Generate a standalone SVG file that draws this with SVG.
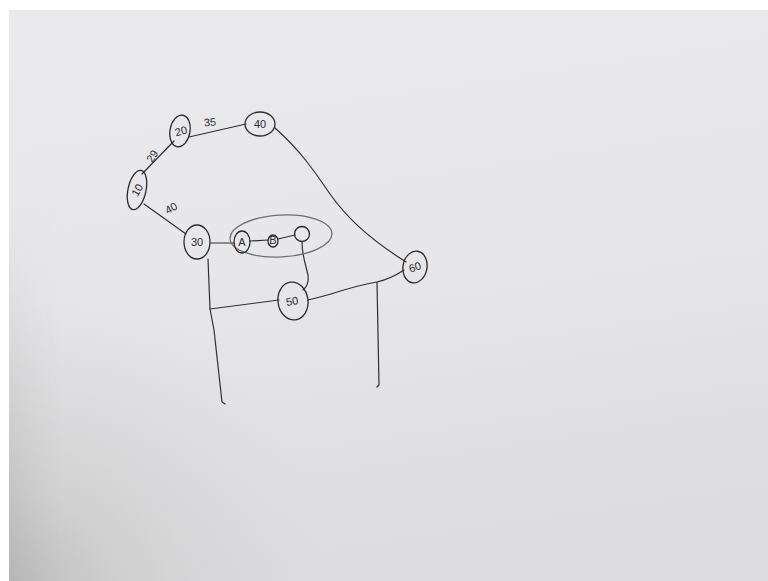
<svg xmlns="http://www.w3.org/2000/svg" width="768" height="581" viewBox="0 0 768 581">
<defs>
<linearGradient id="board" x1="0" y1="0" x2="0.2" y2="1">
<stop offset="0" stop-color="#eaeaed"/>
<stop offset="0.5" stop-color="#e7e7e9"/>
<stop offset="1" stop-color="#dddddf"/>
</linearGradient>
<radialGradient id="shade" gradientUnits="userSpaceOnUse" cx="0" cy="600" r="330" fx="0" fy="600">
<stop offset="0" stop-color="#a9a9a9" stop-opacity="0.75"/>
<stop offset="0.35" stop-color="#b9b9b9" stop-opacity="0.4"/>
<stop offset="1" stop-color="#cccccc" stop-opacity="0"/>
</radialGradient>
<linearGradient id="edge" gradientUnits="userSpaceOnUse" x1="9" y1="0" x2="60" y2="0">
<stop offset="0" stop-color="#b0b0b0" stop-opacity="0.5"/>
<stop offset="1" stop-color="#c0c0c0" stop-opacity="0"/>
</linearGradient>
<linearGradient id="edgeMask" x1="0" y1="0" x2="0" y2="1">
<stop offset="0" stop-color="#fff" stop-opacity="0"/>
<stop offset="0.35" stop-color="#fff" stop-opacity="0.3"/>
<stop offset="1" stop-color="#fff" stop-opacity="1"/>
</linearGradient>
<mask id="em"><rect x="9" y="200" width="60" height="381" fill="url(#edgeMask)"/></mask>
</defs>
<style>
.n{fill:none;stroke:#2b2b2b;stroke-width:1.3}
.e{fill:none;stroke:#303030;stroke-width:1.2;stroke-linecap:round;stroke-linejoin:round}
.t{font-family:"Liberation Sans",Arial,sans-serif;fill:#2b2b2b;font-size:11px}
.g{fill:none;stroke:#707072;stroke-width:1.3}
</style>
<rect width="768" height="581" fill="#ffffff"/>
<rect x="9" y="10" width="759" height="571" fill="url(#board)"/>
<rect x="9" y="10" width="759" height="571" fill="url(#shade)"/>
<rect x="9" y="200" width="60" height="381" fill="url(#edge)" mask="url(#em)"/>

<g id="connectors">
<path class="e" d="M142,174 L174,141"/>
<path class="e" d="M189,137 L246,124"/>
<path class="e" d="M144,204 L186,234"/>
<path class="e" d="M211,243 L234,243"/>
<path class="e" d="M250,241 L268,240"/>
<path class="e" d="M278,239 L295,235"/>
<path class="e" d="M275,128 C300,150 315,172 330,194 C345,215 365,236 406,262"/>
<path class="e" d="M302,242 C302,255 305,262 308,275 C309,283 307,287 303,290"/>
<path class="e" d="M208,259 L210,309 L214,330 L222,402 L225,404"/>
<path class="e" d="M210,309 L279,300"/>
<path class="e" d="M308,300 C320,297 328,295 334,293 C350,288 365,284 377,282 C390,279 398,274 404,270"/>
<path class="e" d="M377,282 L379,385 L377,387"/>
</g>

<g id="node10">
<ellipse class="n" cx="137" cy="190" rx="9" ry="20" transform="rotate(12 137 190)"/>
<text class="t" x="137" y="194" text-anchor="middle" font-size="9" transform="rotate(-60 137 190)">10</text>
</g>
<g id="node20">
<ellipse class="n" cx="180" cy="131" rx="10" ry="16" transform="rotate(10 180 131)"/>
<text class="t" x="181" y="135" text-anchor="middle" font-size="10" transform="rotate(-15 181 131)">20</text>
</g>
<g id="node40">
<ellipse class="n" cx="260" cy="124" rx="15" ry="12"/>
<text class="t" x="260" y="128" text-anchor="middle" font-size="10">40</text>
</g>
<g id="node30">
<ellipse class="n" cx="197" cy="242" rx="13" ry="17"/>
<text class="t" x="197" y="246" text-anchor="middle" font-size="10">30</text>
</g>
<g id="group">
<ellipse class="g" cx="281" cy="236" rx="51" ry="21" transform="rotate(-3 281 236)"/>
</g>
<g id="nodeA">
<ellipse class="n" cx="242" cy="242" rx="8" ry="11"/>
<text class="t" x="242" y="246" text-anchor="middle" font-size="10">A</text>
</g>
<g id="nodeB">
<ellipse class="n" cx="273" cy="241" rx="5" ry="6"/>
<text class="t" x="273" y="244" text-anchor="middle" font-size="6">B</text>
</g>
<g id="nodeC">
<ellipse class="n" cx="302" cy="234" rx="7.5" ry="7.5"/>
</g>
<g id="node50">
<ellipse class="n" cx="293" cy="301" rx="15" ry="19" transform="rotate(-8 293 301)"/>
<text class="t" x="292" y="305" text-anchor="middle" font-size="10" transform="rotate(-10 292 301)">50</text>
</g>
<g id="node60">
<ellipse class="n" cx="415" cy="267" rx="12" ry="16" transform="rotate(10 415 267)"/>
<text class="t" x="415" y="271" text-anchor="middle" font-size="9" transform="rotate(-20 415 267)">60</text>
</g>

<g id="labels">
<text class="t" x="152" y="160" text-anchor="middle" font-size="12" transform="rotate(-58 152 156)">29</text>
<text class="t" x="210" y="126" text-anchor="middle" font-size="12" transform="rotate(-5 210 122)">35</text>
<text class="t" x="171" y="212" text-anchor="middle" font-size="12" transform="rotate(-30 171 208)">40</text>
</g>
</svg>
